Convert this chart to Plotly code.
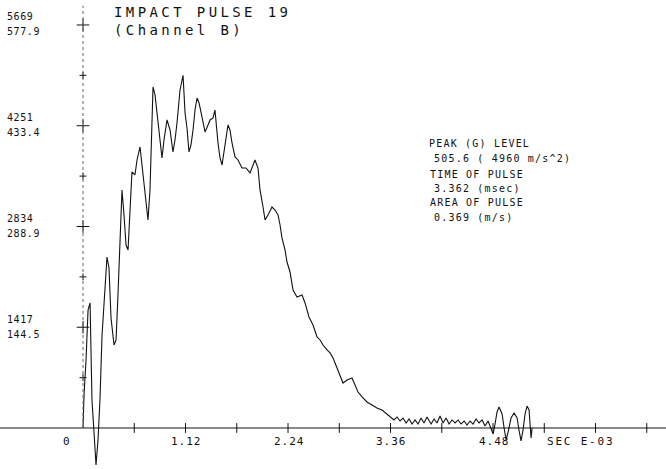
import plotly.graph_objects as go

# Impact pulse, channel B: time in milliseconds, acceleration in G
time_ms = [
    0.000, 0.011, 0.033, 0.055, 0.077, 0.087, 0.098, 0.120, 0.142, 0.164,
    0.186, 0.208, 0.230, 0.262, 0.284, 0.306, 0.339, 0.361, 0.382, 0.404,
    0.426, 0.448, 0.470, 0.492, 0.514, 0.535, 0.568, 0.590, 0.623, 0.645,
    0.678, 0.710, 0.732, 0.743, 0.765, 0.787, 0.809, 0.841, 0.863, 0.885,
    0.918, 0.951, 0.983, 1.005, 1.027, 1.060, 1.093, 1.115, 1.136, 1.158,
    1.180, 1.202, 1.224, 1.246, 1.268, 1.300, 1.333, 1.366, 1.388, 1.421,
    1.442, 1.475, 1.497, 1.519, 1.552, 1.584, 1.606, 1.628, 1.661, 1.694,
    1.737, 1.781, 1.825, 1.858, 1.879, 1.912, 1.934, 1.967, 1.989, 2.021,
    2.065, 2.098, 2.131, 2.153, 2.174, 2.207, 2.229, 2.262, 2.295, 2.338,
    2.393, 2.426, 2.469, 2.513, 2.557, 2.590, 2.622, 2.666, 2.699, 2.732,
    2.786, 2.841, 2.885, 2.939, 2.972, 3.005, 3.049, 3.103, 3.158, 3.212,
    3.267, 3.322, 3.365, 3.398, 3.431, 3.464, 3.497, 3.530, 3.562, 3.595,
    3.628, 3.661, 3.693, 3.726, 3.759, 3.803, 3.836, 3.868, 3.901, 3.934,
    3.967, 4.000, 4.032, 4.065, 4.098, 4.131, 4.164, 4.196, 4.229, 4.262,
    4.295, 4.327, 4.360, 4.393, 4.426, 4.459, 4.481, 4.502, 4.524, 4.546,
    4.579, 4.601, 4.623, 4.645, 4.677, 4.710, 4.743, 4.764, 4.786, 4.808,
    4.830, 4.852, 4.874, 4.885, 4.896, 4.907,
]
accel_g = [
    0.0, 47.3, 97.5, 169.2, 179.3, 126.2, 40.2, -5.7, -53.1, -17.2,
    43.0, 133.4, 183.6, 245.2, 229.4, 157.7, 119.0, 126.2, 190.7, 262.4,
    341.3, 305.4, 262.4, 255.3, 319.8, 367.1, 362.8, 384.3, 403.0, 377.1,
    334.1, 298.3, 341.3, 388.6, 489.0, 477.5, 451.7, 408.7, 387.2, 413.0,
    441.7, 427.3, 395.8, 413.0, 437.4, 484.7, 505.6, 451.7, 430.2, 395.8,
    405.8, 427.3, 456.0, 473.2, 466.1, 446.0, 424.5, 434.5, 441.7, 444.5,
    456.0, 408.7, 387.2, 377.1, 405.8, 434.5, 427.3, 408.7, 388.6, 384.3,
    372.8, 372.8, 365.7, 377.1, 384.3, 372.8, 341.3, 316.9, 298.3, 305.4,
    316.9, 312.6, 305.4, 291.1, 272.5, 255.3, 238.0, 223.7, 197.9, 187.9,
    190.7, 179.3, 159.2, 147.7, 130.5, 126.2, 119.0, 111.9, 107.6, 100.4,
    83.2, 64.5, 68.8, 71.7, 61.7, 51.6, 44.5, 37.3, 33.0, 28.7,
    25.8, 20.1, 14.3, 11.5, 15.8, 10.0, 14.3, 7.2, 12.9, 5.7,
    11.5, 5.7, 14.3, 7.2, 15.8, 5.7, 12.9, 7.2, 17.2, 7.2,
    14.3, 5.7, 11.5, 7.2, 11.5, 5.7, 10.0, 4.3, 10.0, 5.7,
    12.9, 7.2, 11.5, 2.9, 10.0, 0.0, -8.6, 5.7, 22.9, 30.1,
    20.1, 0.0, -17.2, -5.7, 14.3, 21.5, 14.3, -2.9, -18.6, -2.9,
    20.1, 31.5, 25.8, 4.3, -14.3, 0.0,
]

# Scale: full scale 577.9 G (5669 m/s^2), 1.12 ms per labelled division
y_major_g = [144.5, 288.9, 433.4, 577.9]
y_major_ms2_text = ["1417", "2834", "4251", "5669"]
y_major_g_text = ["144.5", "288.9", "433.4", "577.9"]
y_minor_g = [72.2, 216.7, 361.2, 505.7]
x_major_ms = [0.0, 1.12, 2.24, 3.36, 4.48]
x_major_text = ["0", "1.12", "2.24", "3.36", "4.48"]
x_minor_ms = [0.56, 1.68, 2.80, 3.92, 5.04, 5.60, 6.16]

# Pulse summary
peak_g = 505.6
peak_ms2 = 4960
pulse_time_ms = 3.362
pulse_area = 0.369

X_RANGE = [-0.907, 6.370]
Y_RANGE = [-58.8, 613.7]
W, H = 666, 469
MONO = "DejaVu Sans Mono"
INK = "#111111"


def spaced(text, px):
    return f'<span style="letter-spacing:{px}px">{text}</span>'


fig = go.Figure()

# The acceleration trace
fig.add_trace(go.Scatter(
    x=time_ms, y=accel_g, mode="lines",
    line=dict(color=INK, width=1.1), hoverinfo="skip", showlegend=False,
))

# Tick marks on the time axis
fig.add_trace(go.Scatter(
    x=x_major_ms[1:] + x_minor_ms, y=[0.0] * (len(x_major_ms) - 1 + len(x_minor_ms)),
    mode="markers",
    marker=dict(symbol="line-ns-open", size=7, color=INK, line=dict(color=INK, width=1)),
    hoverinfo="skip", showlegend=False,
))
# Tick crosses on the acceleration axis
fig.add_trace(go.Scatter(
    x=[0.0] * len(y_major_g), y=y_major_g, mode="markers",
    marker=dict(symbol="cross-thin-open", size=9, color=INK, line=dict(color=INK, width=1)),
    hoverinfo="skip", showlegend=False,
))
fig.add_trace(go.Scatter(
    x=[0.0] * len(y_minor_g), y=y_minor_g, mode="markers",
    marker=dict(symbol="cross-thin-open", size=5, color=INK, line=dict(color=INK, width=1)),
    hoverinfo="skip", showlegend=False,
))

shapes = [
    # time axis
    dict(type="line", xref="paper", yref="y", x0=0.0, x1=1.0, y0=0, y1=0,
         line=dict(color=INK, width=1)),
    # acceleration axis
    dict(type="line", xref="x", yref="y", x0=0, x1=0, y0=0, y1=Y_RANGE[1] - 8,
         line=dict(color="#666666", width=1, dash="dot")),
]

annotations = []
# Acceleration labels: m/s^2 above, G below
for g, ms2, gt in zip(y_major_g, y_major_ms2_text, y_major_g_text):
    annotations.append(dict(x=5 / W, xref="paper", y=g, yref="y", xanchor="left", yanchor="middle",
                            text=spaced(ms2, 0.6), yshift=8, showarrow=False,
                            font=dict(family=MONO, size=10, color=INK)))
    annotations.append(dict(x=5 / W, xref="paper", y=g, yref="y", xanchor="left", yanchor="middle",
                            text=spaced(gt, 0.6), yshift=-7, showarrow=False,
                            font=dict(family=MONO, size=10, color=INK)))

# Time labels
for t, txt in zip(x_major_ms, x_major_text):
    annotations.append(dict(x=t, xref="x", y=0, yref="y", xanchor="center", yanchor="middle",
                            text=spaced(txt, 1), yshift=-14, xshift=(-16 if t == 0 else 1),
                            showarrow=False, font=dict(family=MONO, size=11, color=INK)))
annotations.append(dict(x=545 / W, xref="paper", y=0, yref="y", xanchor="left", yanchor="middle",
                        text=spaced("SEC E-03", 1.8), yshift=-14, showarrow=False,
                        font=dict(family=MONO, size=11, color=INK)))

# Title
annotations.append(dict(x=112 / W, xref="paper", y=1 - 12 / H, yref="paper", xanchor="left",
                        yanchor="middle", text=spaced("IMPACT PULSE 19", 3.4), showarrow=False,
                        font=dict(family=MONO, size=14, color=INK)))
annotations.append(dict(x=112 / W, xref="paper", y=1 - 30 / H, yref="paper", xanchor="left",
                        yanchor="middle", text=spaced("(Channel B)", 3.4), showarrow=False,
                        font=dict(family=MONO, size=14, color=INK)))

# Pulse summary block
summary = [
    ("PEAK (G) LEVEL", 427, 143),
    (f"{peak_g} ( {peak_ms2} m/s^2)", 432, 158),
    ("TIME OF PULSE", 428, 174),
    (f"{pulse_time_ms} (msec)", 432, 188),
    ("AREA OF PULSE", 428, 203),
    (f"{pulse_area} (m/s)", 432, 218),
]
for txt, px, py in summary:
    annotations.append(dict(x=px / W, xref="paper", y=1 - py / H, yref="paper", xanchor="left",
                            yanchor="middle", text=spaced(txt, 1.2), showarrow=False,
                            font=dict(family=MONO, size=10, color=INK)))

fig.update_layout(
    width=W, height=H,
    margin=dict(l=0, r=0, t=0, b=0),
    paper_bgcolor="white", plot_bgcolor="white",
    xaxis=dict(range=X_RANGE, visible=False, fixedrange=True),
    yaxis=dict(range=Y_RANGE, visible=False, fixedrange=True),
    shapes=shapes, annotations=annotations,
    showlegend=False,
)

fig.write_html("out.html")
